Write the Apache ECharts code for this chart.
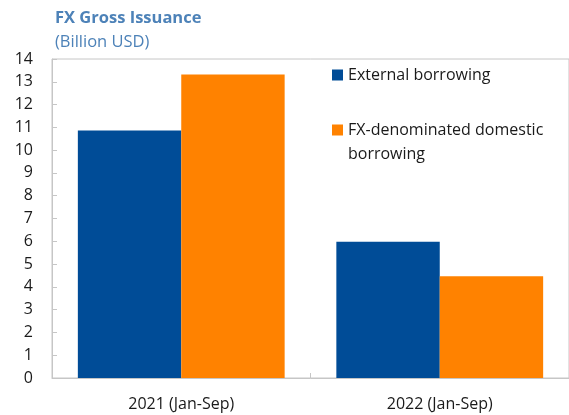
<!DOCTYPE html>
<html><head><meta charset="utf-8">
<script src="https://cdn.jsdelivr.net/npm/echarts@6/dist/echarts.min.js"></script>
<style>html,body{margin:0;padding:0;background:#fff}#c{width:569px;height:415px}</style>
</head><body><div id="c"></div>
<script>
var categories = ['2021 (Jan-Sep)', '2022 (Jan-Sep)'];
var externalBorrowing = [10.86, 5.98];
var fxDomesticBorrowing = [13.32, 4.47];
var yTicks = [0, 14, 1];
var FONT = '"Open Sans", "Noto Sans", sans-serif';
var chart = echarts.init(document.getElementById('c'));
chart.setOption({
  animation: false,
  textStyle: {fontFamily: FONT},
  title: [
    {text: 'FX Gross Issuance', left: 50, top: 5, textStyle: {fontFamily: FONT, fontSize: 16.5, fontWeight: 'bold', color: '#4d82b8'}},
    {text: '(Billion USD)', left: 50, top: 29, textStyle: {fontFamily: FONT, fontSize: 16.5, fontWeight: 'normal', color: '#4d82b8'}}
  ],
  legend: [
    {data: ['External borrowing'], orient: 'vertical', left: 332, top: 67, padding: 0, itemWidth: 11, itemHeight: 11, icon: 'rect',
     textStyle: {fontFamily: FONT, fontSize: 16, color: '#1a1a1a'}},
    {data: ['FX-denominated domestic borrowing'], orient: 'vertical', left: 332, top: 94, padding: 0, itemWidth: 11, itemHeight: 11, icon: 'rect',
     formatter: function(n){ return '{a|}\n{a|FX-denominated domestic}\n{a|borrowing}'; },
     textStyle: {fontFamily: FONT, fontSize: 16, color: '#1a1a1a', lineHeight: 24,
       rich: {a: {fontFamily: FONT, fontSize: 16, color: '#1a1a1a', lineHeight: 24, height: 24}}}}
  ],
  grid: {left: 52, top: 59, width: 521, bottom: 37, show: true, borderColor: '#c6c6c6', borderWidth: 1},
  xAxis: {
    type: 'category', data: categories,
    axisLine: {lineStyle: {color: '#c6c6c6'}},
    axisTick: {show: true, inside: true, length: 5, lineStyle: {color: '#c6c6c6'}},
    axisLabel: {color: '#1a1a1a', fontSize: 16, margin: 18, fontFamily: FONT}
  },
  yAxis: {
    type: 'value', min: yTicks[0], max: yTicks[1], interval: yTicks[2],
    splitLine: {show: false},
    axisLine: {show: true, lineStyle: {color: '#c6c6c6'}},
    axisTick: {show: true, inside: true, length: 5, lineStyle: {color: '#c6c6c6'}},
    axisLabel: {color: '#1a1a1a', fontSize: 16, margin: 19, fontFamily: FONT}
  },
  series: [
    {name: 'External borrowing', type: 'bar', data: externalBorrowing, itemStyle: {color: '#004c97'}, barGap: '0%', barCategoryGap: '20%'},
    {name: 'FX-denominated domestic borrowing', type: 'bar', data: fxDomesticBorrowing, itemStyle: {color: '#ff8200'}, barGap: '0%', barCategoryGap: '20%'}
  ]
});
</script></body></html>
